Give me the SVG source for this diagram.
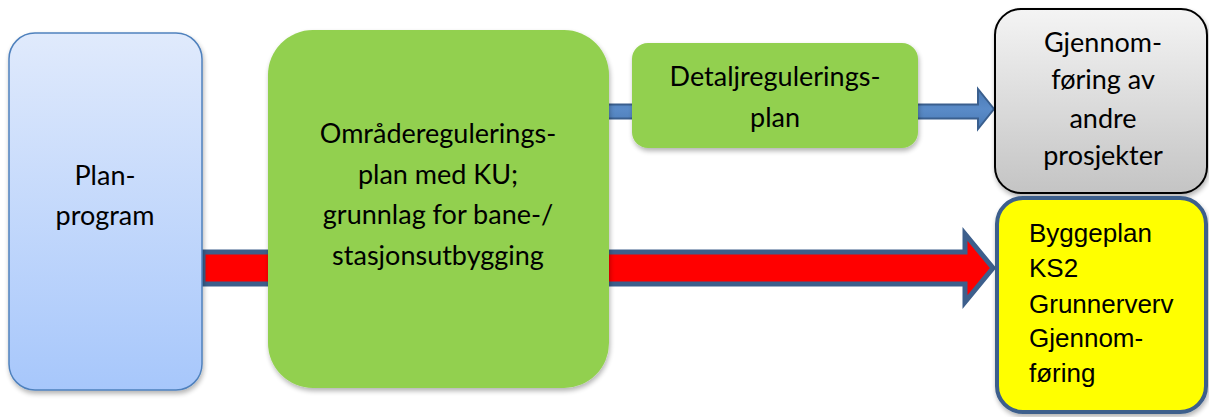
<svg xmlns="http://www.w3.org/2000/svg" width="1209" height="417" viewBox="0 0 1209 417">
<defs>
<linearGradient id="gBlue" x1="0" y1="0" x2="0" y2="1">
<stop offset="0" stop-color="#e0eafc"/>
<stop offset="1" stop-color="#a7c7fb"/>
</linearGradient>
<linearGradient id="gGray" x1="0" y1="0" x2="0" y2="1">
<stop offset="0" stop-color="#f4f4f4"/>
<stop offset="1" stop-color="#c4c4c4"/>
</linearGradient>
<linearGradient id="gArrow" x1="0" y1="0" x2="0" y2="1">
<stop offset="0" stop-color="#4a7ab5"/>
<stop offset="0.5" stop-color="#5a8bc8"/>
<stop offset="1" stop-color="#4a7ab5"/>
</linearGradient>
<filter id="sh" x="-10%" y="-10%" width="120%" height="120%">
<feGaussianBlur in="SourceAlpha" stdDeviation="2.5"/>
<feOffset dx="1" dy="3" result="b"/>
<feComponentTransfer><feFuncA type="linear" slope="0.3"/></feComponentTransfer>
<feMerge><feMergeNode/><feMergeNode in="SourceGraphic"/></feMerge>
</filter>
</defs>
<style>
.cal{font-family:Lato,"Open Sans",sans-serif;font-size:27px;fill:#000;text-anchor:middle}
.ari{font-family:"Liberation Sans",Arial,sans-serif;font-size:26px;fill:#000}
.green{fill:#92d050}
</style>
<g id="connectors">
<path d="M203 252 L965 252 L965 234 L993 268 L965 302 L965 284 L203 284 Z" fill="#ff0000" stroke="#3d5f8c" stroke-width="5" stroke-linejoin="miter"/>
<path d="M606 104.5 L978 104.5 L978 89 L994 109 L978 129 L978 118.5 L606 118.5 Z" fill="url(#gArrow)" stroke="#3a5f8e" stroke-width="2"/>
</g>
<g id="planprogram">
<rect x="9" y="33" width="193" height="357" rx="26" fill="url(#gBlue)" stroke="#4f81bd" stroke-width="1.5" filter="url(#sh)"/>
<text class="cal" x="105" y="185">Plan-</text>
<text class="cal" x="105" y="225">program</text>
</g>
<g id="omrade">
<rect x="268" y="30" width="341" height="358" rx="45" class="green" filter="url(#sh)"/>
<text class="cal" x="438" y="143">Områderegulerings-</text>
<text class="cal" x="438" y="184">plan med KU;</text>
<text class="cal" x="438" y="224">grunnlag for bane-/</text>
<text class="cal" x="438" y="265">stasjonsutbygging</text>
</g>
<g id="detalj">
<rect x="632" y="43" width="286" height="105" rx="16" class="green" filter="url(#sh)"/>
<text class="cal" x="775" y="86">Detaljregulerings-</text>
<text class="cal" x="775" y="127">plan</text>
</g>
<g id="andre">
<rect x="995" y="9" width="212" height="184" rx="26" fill="url(#gGray)" stroke="#000" stroke-width="2" filter="url(#sh)"/>
<text class="cal" x="1103" y="52">Gjennom-</text>
<text class="cal" x="1103" y="89">føring av</text>
<text class="cal" x="1103" y="128">andre</text>
<text class="cal" x="1103" y="165">prosjekter</text>
</g>
<g id="bygge">
<rect x="997" y="198" width="209" height="214" rx="26" fill="#ffff00" stroke="#3d5f8c" stroke-width="4" filter="url(#sh)"/>
<text class="ari" x="1029" y="242">Byggeplan</text>
<text class="ari" x="1029" y="277">KS2</text>
<text class="ari" x="1029" y="313">Grunnerverv</text>
<text class="ari" x="1029" y="347">Gjennom-</text>
<text class="ari" x="1029" y="382">føring</text>
</g>
</svg>
